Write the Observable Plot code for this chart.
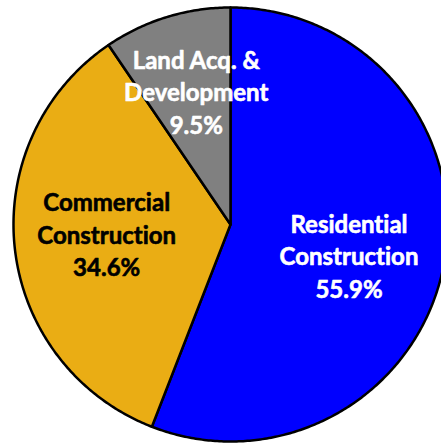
<!DOCTYPE html>
<html>
<head>
<meta charset="utf-8">
<script src="https://cdn.jsdelivr.net/npm/d3@7"></script>
<script src="https://cdn.jsdelivr.net/npm/@observablehq/plot@0.6"></script>
<style>
  html, body { margin: 0; padding: 0; background: #fff; overflow: hidden; }
  #chart svg { display: block; overflow: hidden; }
  #chart text { font-variant-ligatures: none; font-feature-settings: "liga" 0; }
</style>
</head>
<body>
<div id="chart"></div>
<script>
// Data
const categories = ["Residential Construction", "Commercial Construction", "Land Acq. & Development"];
const labels = ["Residential\nConstruction", "Commercial\nConstruction", "Land Acq. &\nDevelopment"];
const shares = [55.9, 34.6, 9.5];
const colors = ["#0000FF", "#EAAD14", "#808080"];
const textColors = ["#FFFFFF", "#000000", "#FFFFFF"];

// Slices via d3.pie (clockwise from 12 o'clock, original order)
const pie = d3.pie().sort(null).value(d => d)(shares);

const polyPoints = [];
pie.forEach((a, i) => {
  polyPoints.push({cat: categories[i], x: 0, y: 0});
  const n = Math.max(2, Math.ceil((a.endAngle - a.startAngle) / 0.01));
  for (let k = 0; k <= n; k++) {
    const t = a.startAngle + (a.endAngle - a.startAngle) * k / n;
    polyPoints.push({cat: categories[i], x: Math.sin(t), y: Math.cos(t)});
  }
  polyPoints.push({cat: categories[i], x: 0, y: 0});
});

const labelRadius = [0.565, 0.565, 0.615];
const labelData = pie.map((a, i) => {
  const m = (a.startAngle + a.endAngle) / 2;
  return {
    cat: categories[i],
    text: labels[i] + "\n" + shares[i].toFixed(1) + "%",
    x: labelRadius[i] * Math.sin(m),
    y: labelRadius[i] * Math.cos(m),
    color: textColors[i]
  };
});
// small pixel nudges for label placement
const nudge = [[-2, 8], [-2, -5], [5, -6]];

const cx = 230, cy = 224, r = 217;

const chart = Plot.plot({
  width: 441,
  height: 443,
  margin: 0,
  x: {domain: [-1, 1], range: [cx - r, cx + r], axis: null},
  y: {domain: [-1, 1], range: [cy + r, cy - r], axis: null},
  color: {domain: categories, range: colors},
  style: {background: "white"},
  marks: [
    Plot.line(polyPoints, {
      x: "x", y: "y", z: "cat",
      fill: "cat",
      stroke: "#000",
      strokeWidth: 2.5,
      strokeLinejoin: "round"
    }),
    ...labelData.map((d, i) => Plot.text([d], {
      x: "x", y: "y",
      text: "text",
      fill: "color",
      stroke: "color",
      strokeWidth: 0.6,
      dx: nudge[i][0],
      dy: nudge[i][1],
      fontSize: 24,
      fontWeight: "bold",
      fontFamily: "Lato, 'Open Sans', sans-serif",
      lineHeight: 1.35,
      textAnchor: "middle"
    }))
  ]
});

document.getElementById("chart").appendChild(chart);
</script>
</body>
</html>
